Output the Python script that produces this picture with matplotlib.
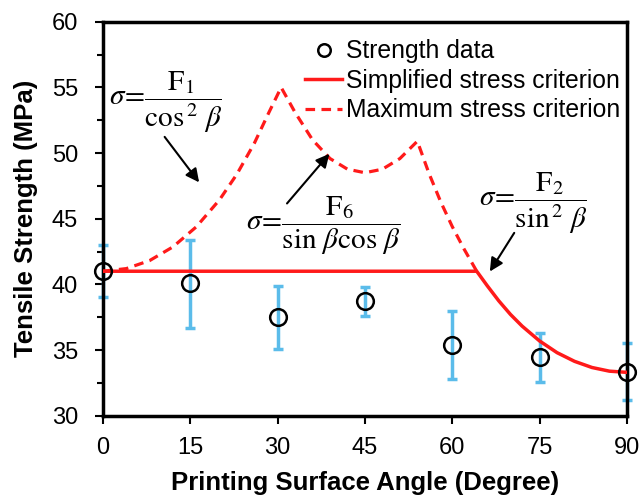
import matplotlib
matplotlib.use("Agg")
import matplotlib.pyplot as plt
from matplotlib.ticker import MultipleLocator

plt.rcParams['font.family'] = ['Liberation Sans', 'DejaVu Sans']
plt.rcParams['mathtext.fontset'] = 'stix'

# measured strength data
angles = [0, 15, 30, 45, 60, 75, 90]
strength = [41.0, 40.1, 37.5, 38.7, 35.4, 34.5, 33.3]
err_low = [39.0, 36.7, 35.1, 37.6, 32.8, 32.6, 31.2]
err_high = [43.0, 43.4, 39.9, 39.8, 38.0, 36.3, 35.5]

# simplified stress criterion
simp_x = [0, 64.2, 66, 68, 70, 72, 75, 78, 81, 84, 87, 90]
simp_y = [41.0, 41.0, 39.9, 38.74, 37.71, 36.82, 35.69, 34.80, 34.14, 33.67, 33.39, 33.3]

# maximum stress criterion
max_x = [0, 4, 8, 12, 16, 20, 23, 26, 28.5, 30.6, 33, 36, 39, 42, 45, 48, 51, 54,
         56, 58, 60, 62, 64.2]
max_y = [41.0, 41.2, 41.81, 42.85, 44.37, 46.43, 48.39, 50.75, 53.09, 55.0, 53.09, 51.0,
         49.58, 48.77, 48.5, 48.77, 49.58, 50.9, 48.45, 46.3, 44.4, 42.71, 41.0]

fig = plt.figure(figsize=(6.41, 4.97), dpi=100)
ax = fig.add_axes([0.1607, 0.1636, 0.8173, 0.7927])

red = '#ff1a1a'
blue = '#5bbcea'

lo = [s - l for s, l in zip(strength, err_low)]
hi = [h - s for s, h in zip(strength, err_high)]
eb = ax.errorbar(angles, strength, yerr=[lo, hi], fmt='none', ecolor=blue,
                 elinewidth=2.5, capsize=3.5, capthick=2.5, zorder=2)
for art in eb.lines[1] + eb.lines[2]:
    art.set_clip_on(False)
ax.plot(max_x, max_y, color=red, lw=2.3, ls=(0, (3, 2)), zorder=3,
        label='Maximum stress criterion')
ax.plot(simp_x, simp_y, color=red, lw=2.5, zorder=3,
        label='Simplified stress criterion')
ax.plot(angles, strength, 'o', mfc='none', mec='black', mew=1.8, ms=12,
        zorder=4, label='Strength data', clip_on=False)

ax.set_xlim(0, 90)
ax.set_ylim(30, 60)
ax.xaxis.set_major_locator(MultipleLocator(15))
ax.yaxis.set_major_locator(MultipleLocator(5))
ax.yaxis.set_minor_locator(MultipleLocator(2.5))
ax.tick_params(axis='both', which='major', direction='out', length=6, width=1.5,
               labelsize=17)
ax.tick_params(axis='x', which='major', pad=9)
ax.tick_params(axis='y', which='major', pad=12)
ax.tick_params(axis='y', which='minor', direction='out', length=4, width=1.5)
for sp in ax.spines.values():
    sp.set_linewidth(2.5)

ax.set_xlabel('Printing Surface Angle (Degree)', fontsize=18.5, fontweight='bold', labelpad=9)
ax.set_ylabel('Tensile Strength (MPa)', fontsize=18.5, fontweight='bold', labelpad=10)

h, l = ax.get_legend_handles_labels()
order = [2, 1, 0]
ax.legend([h[i] for i in order], [l[i] for i in order], loc='upper right',
          bbox_to_anchor=(1.02, 0.999), frameon=False, fontsize=17.8,
          handlelength=1.5, handletextpad=0.15, labelspacing=0.22, markerscale=0.75,
          borderaxespad=0.3)

ax.text(1.1, 53.85, r'$\sigma\!=\!\dfrac{\mathrm{F}_1}{\cos^{\,2}\,\beta}$', fontsize=21,
        ha='left', va='center')
ax.text(24.6, 44.45, r'$\sigma\!=\!\dfrac{\mathrm{F}_6}{\sin\,\beta\cos\,\beta}$', fontsize=21,
        ha='left', va='center')
ax.text(64.6, 46.15, r'$\sigma\!=\!\dfrac{\mathrm{F}_2}{\sin^{\,2}\,\beta}$', fontsize=21,
        ha='left', va='center')

arw = dict(arrowstyle='-|>', color='black', lw=1.5, mutation_scale=20)
ax.annotate('', xy=(16.8, 47.6), xytext=(10.3, 51.4), arrowprops=arw)
ax.annotate('', xy=(39.2, 50.1), xytext=(31.3, 46.0), arrowprops=arw)
ax.annotate('', xy=(66.2, 40.8), xytext=(70.9, 44.1), arrowprops=arw)

fig.savefig('out.png', dpi=100)
